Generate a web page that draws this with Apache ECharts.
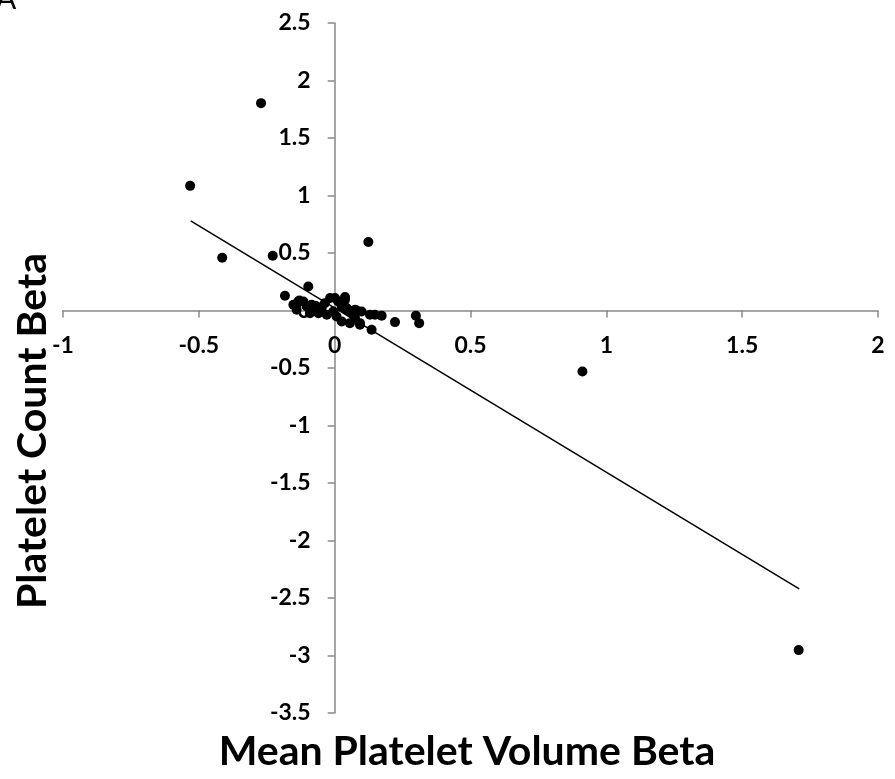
<!DOCTYPE html>
<html>
<head>
<meta charset="utf-8">
<script src="https://cdn.jsdelivr.net/npm/echarts@6/dist/echarts.min.js"></script>
<style>html,body{margin:0;padding:0;background:#fff}#c{width:895px;height:779px}</style>
</head>
<body>
<div id="c"></div>
<script>
// Mean Platelet Volume Beta (x) vs Platelet Count Beta (y)
var mpvBeta = [-0.532, -0.271, -0.414, -0.228, 0.124, 0.912, 1.708,
  -0.097, -0.183, -0.152, -0.134, -0.140, -0.103, -0.085, -0.066, -0.048, -0.036, -0.017, 0.001, 0.038,
  -0.005, 0.007, 0.026, 0.044, 0.062, 0.075, -0.091, -0.060, -0.029, 0.093,
  0.038, 0.044, 0.075, 0.099, 0.130, 0.148, 0.173, 0.222, 0.299, 0.311, 0.056, 0.093, 0.136, 0.026,
  -0.115, -0.130, 0.013, 0.050, 0.081, -0.072];
var plcBeta = [1.084, 1.803, 0.458, 0.476, 0.595, -0.530, -2.953,
  0.209, 0.128, 0.050, 0.078, 0.006, 0.035, 0.050, 0.035, 0.021, 0.064, 0.108, 0.108, 0.117,
  -0.009, -0.052, 0.035, 0.021, -0.023, -0.066, -0.023, -0.023, -0.037, -0.110,
  0.093, 0.006, 0.006, -0.009, -0.037, -0.037, -0.046, -0.101, -0.046, -0.110, -0.110, -0.124, -0.168, -0.096,
  0.078, 0.087, 0.078, 0.006, 0.000, 0.041];
// linear trend line end points
var trendX = [-0.53, 1.71];
var trendY = [0.78, -2.42];

var xTitle = 'Mean Platelet Volume Beta';
var yTitle = 'Platelet Count Beta';
var panelLabel = 'A';

var pts = mpvBeta.map(function (x, i) { return [x, plcBeta[i]]; });
var trend = trendX.map(function (x, i) { return [x, trendY[i]]; });

var FONT = 'Lato, "Open Sans", sans-serif';
var W = 895, H = 779, L = 63, R = 17, T = 23, B = 66;
var xMin = -1, xMax = 2, yMin = -3.5, yMax = 2.5;
var gw = W - L - R, gh = H - T - B;
var zeroXpx = gw * (0 - xMin) / (xMax - xMin);      // from left edge of grid
var zeroYpx = gh * (yMax - 0) / (yMax - yMin);      // from top edge of grid

var chart = echarts.init(document.getElementById('c'), null, {renderer: 'canvas'});
function axisCommon() {
  return {
    type: 'value',
    splitLine: {show: false},
    axisLine: {show: true, onZero: false, lineStyle: {color: '#898989', width: 1.5}},
    axisTick: {show: true, inside: false, length: 7, lineStyle: {color: '#898989', width: 1.5}},
    axisLabel: {color: '#000', fontFamily: FONT, fontWeight: 'bold', fontSize: 23, margin: 24}
  };
}
chart.setOption({
  animation: false,
  grid: {left: L, right: R, top: T, bottom: B, containLabel: false},
  xAxis: Object.assign(axisCommon(), {min: xMin, max: xMax, interval: 0.5, position: 'bottom', offset: -(gh - zeroYpx)}),
  yAxis: Object.assign(axisCommon(), {min: yMin, max: yMax, interval: 0.5, position: 'left', offset: -zeroXpx}),
  graphic: [
    {type: 'text', x: 467, y: 752, style: {text: xTitle, font: 'bold 41px ' + FONT, fill: '#000', align: 'center', verticalAlign: 'middle'}},
    {type: 'text', x: 33, y: 431, rotation: Math.PI / 2, style: {text: yTitle, font: 'bold 41px ' + FONT, fill: '#000', align: 'center', verticalAlign: 'middle'}},
    {type: 'text', x: -4, y: -16, style: {text: panelLabel, font: '30px ' + FONT, fill: '#000'}}
  ],
  series: [
    {type: 'line', data: trend, symbol: 'none', lineStyle: {color: '#000', width: 1.5}, z: 2},
    {type: 'scatter', data: pts, symbol: 'circle', symbolSize: 10, itemStyle: {color: '#000', opacity: 1}, z: 3}
  ]
});
</script>
</body>
</html>
